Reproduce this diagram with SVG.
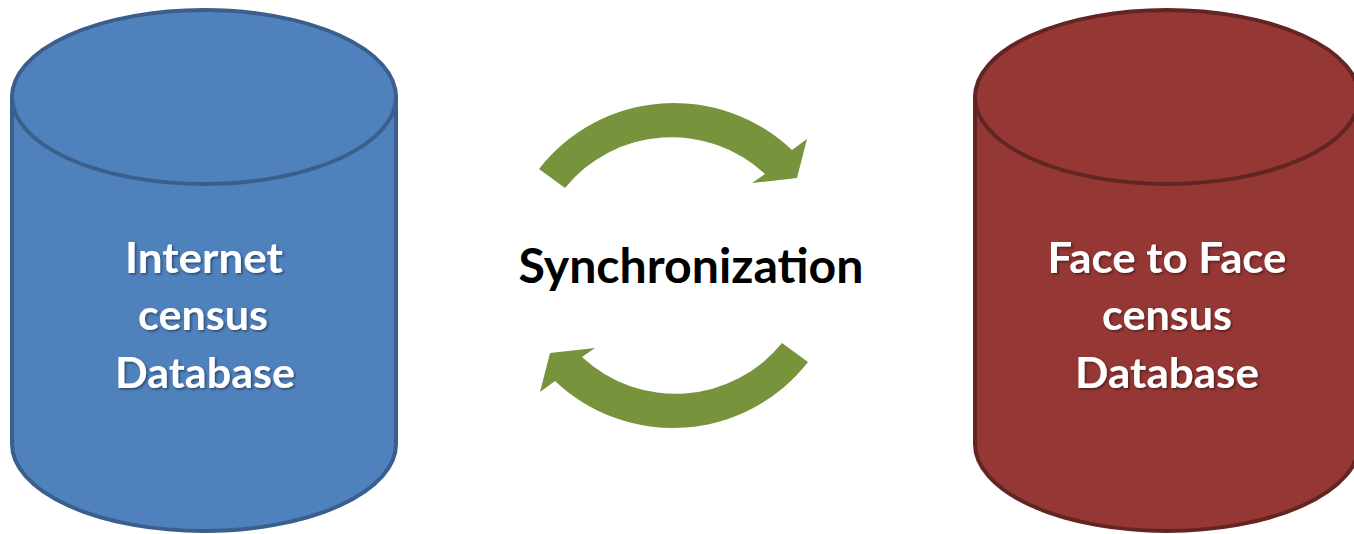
<svg xmlns="http://www.w3.org/2000/svg" width="1354" height="534" viewBox="0 0 1354 534">
<defs>
<style>
.blue{fill:#4F81BD;stroke:#3A5F8C;stroke-width:4}
.red{fill:#943735;stroke:#632523;stroke-width:4}
.lbl{font-family:Lato,"Open Sans",sans-serif;font-weight:bold;font-size:42px;fill:#FFFFFF;text-anchor:middle}
.sync{font-family:Lato,"Open Sans",sans-serif;font-weight:bold;font-size:47px;fill:#000000;text-anchor:middle}
.arrow{fill:#77933C}
</style>
<filter id="sh" x="-10%" y="-10%" width="120%" height="130%">
<feDropShadow dx="1.5" dy="1.5" stdDeviation="1" flood-color="#000" flood-opacity="0.45"/>
</filter>
</defs>
<rect width="1354" height="534" fill="#FFFFFF"/>
<g id="internet-db">
<path class="blue" d="M12,97 V444 A192,87 0 0 0 396,444 V97 Z"/>
<ellipse class="blue" cx="204" cy="97" rx="192" ry="87"/>
<g filter="url(#sh)">
<text class="lbl" x="204" y="273" textLength="158" lengthAdjust="spacingAndGlyphs">Internet</text>
<text class="lbl" x="203" y="330" textLength="130" lengthAdjust="spacingAndGlyphs">census</text>
<text class="lbl" x="205" y="388" textLength="180" lengthAdjust="spacingAndGlyphs">Database</text>
</g>
</g>
<g id="f2f-db">
<path class="red" d="M975,97 V444 A192,87 0 0 0 1359,444 V97 Z"/>
<ellipse class="red" cx="1167" cy="97" rx="192" ry="87"/>
<g filter="url(#sh)">
<text class="lbl" x="1167" y="273" textLength="239" lengthAdjust="spacingAndGlyphs">Face to Face</text>
<text class="lbl" x="1167" y="330" textLength="130" lengthAdjust="spacingAndGlyphs">census</text>
<text class="lbl" x="1167" y="388" textLength="184" lengthAdjust="spacingAndGlyphs">Database</text>
</g>
</g>
<g id="connectors">
<path id="arrow-top" class="arrow" d="M539,169 A171.3,171.3 0 0 1 792,150 L807,139 L797,178 L752,183 L765,174 A137,137 0 0 0 565,188 Z"/>
<path id="arrow-bottom" class="arrow" transform="rotate(180 673.5 265.5)" d="M539,169 A171.3,171.3 0 0 1 792,150 L807,139 L797,178 L752,183 L765,174 A137,137 0 0 0 565,188 Z"/>
</g>
<g id="sync-label">
<text class="sync" x="691" y="283" textLength="345" lengthAdjust="spacingAndGlyphs">Synchronization</text>
</g>
</svg>
